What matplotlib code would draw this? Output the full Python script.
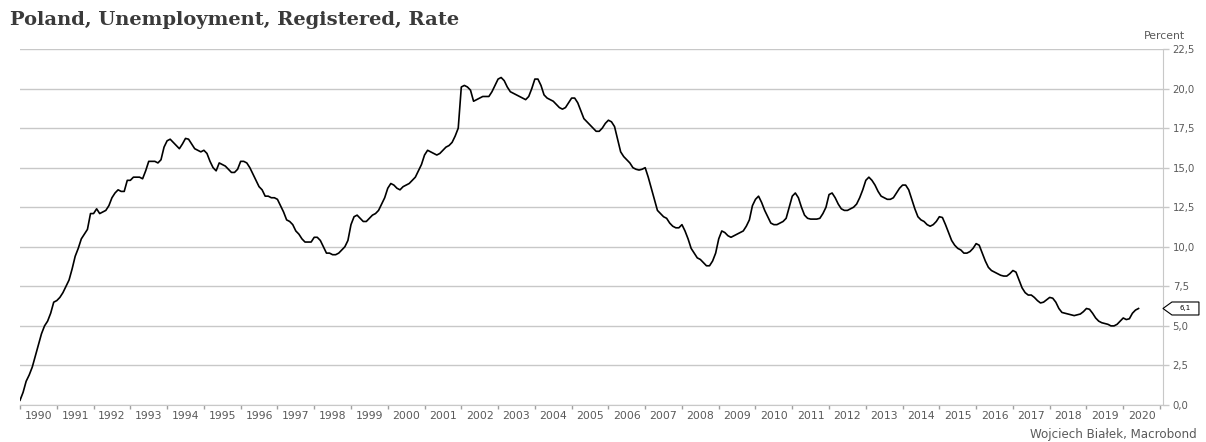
import numpy as np
import matplotlib.pyplot as plt
from matplotlib.patches import Polygon

# monthly registered unemployment rate, Jan 1990 - Jun 2020
rate_1990s = [
    0.3, 0.8, 1.5, 1.9, 2.4, 3.1, 3.8, 4.5, 5.0, 5.3, 5.8, 6.5,        # 1990
    6.6, 6.8, 7.1, 7.5, 7.9, 8.6, 9.4, 9.9, 10.5, 10.8, 11.1, 12.1,    # 1991
    12.1, 12.4, 12.1, 12.2, 12.3, 12.6, 13.1, 13.4, 13.6, 13.5, 13.5, 14.2,  # 1992
    14.2, 14.4, 14.4, 14.4, 14.3, 14.8, 15.4, 15.4, 15.4, 15.3, 15.5, 16.3,  # 1993
    16.7, 16.8, 16.6, 16.4, 16.2, 16.5, 16.85, 16.8, 16.5, 16.2, 16.1, 16.0,  # 1994
    16.1, 15.9, 15.4, 15.0, 14.8, 15.3, 15.2, 15.1, 14.9, 14.7, 14.7, 14.9,  # 1995
    15.4, 15.4, 15.3, 15.0, 14.6, 14.2, 13.8, 13.6, 13.2, 13.2, 13.1, 13.1,  # 1996
    13.0, 12.6, 12.2, 11.7, 11.6, 11.4, 11.0, 10.8, 10.5, 10.3, 10.3, 10.3,  # 1997
    10.6, 10.6, 10.4, 10.0, 9.6, 9.6, 9.5, 9.5, 9.6, 9.8, 10.0, 10.4,        # 1998
    11.4, 11.9, 12.0, 11.8, 11.6, 11.6, 11.8, 12.0, 12.1, 12.3, 12.7, 13.1,  # 1999
]
rate_2000s = [
    13.7, 14.0, 13.9, 13.7, 13.6, 13.8, 13.9, 14.0, 14.2, 14.4, 14.8, 15.2,  # 2000
    15.8, 16.1, 16.0, 15.9, 15.8, 15.9, 16.1, 16.3, 16.4, 16.6, 17.0, 17.5,  # 2001
    20.1, 20.2, 20.1, 19.9, 19.2, 19.3, 19.4, 19.5, 19.5, 19.5, 19.8, 20.2,  # 2002
    20.6, 20.7, 20.5, 20.1, 19.8, 19.7, 19.6, 19.5, 19.4, 19.3, 19.5, 20.0,  # 2003
    20.6, 20.6, 20.2, 19.6, 19.4, 19.3, 19.2, 19.0, 18.8, 18.7, 18.8, 19.1,  # 2004
    19.4, 19.4, 19.1, 18.6, 18.1, 17.9, 17.7, 17.5, 17.3, 17.3, 17.5, 17.8,  # 2005
    18.0, 17.9, 17.6, 16.8, 16.0, 15.7, 15.5, 15.3, 15.0, 14.9, 14.85, 14.9,  # 2006
    15.0, 14.4, 13.7, 13.0, 12.3, 12.1, 11.9, 11.8, 11.5, 11.3, 11.2, 11.2,  # 2007
    11.4, 11.0, 10.5, 9.9, 9.6, 9.3, 9.2, 9.0, 8.8, 8.8, 9.1, 9.6,           # 2008
    10.5, 11.0, 10.9, 10.7, 10.6, 10.7, 10.8, 10.9, 11.0, 11.3, 11.7, 12.6,  # 2009
]
rate_2010s = [
    13.0, 13.2, 12.8, 12.3, 11.9, 11.5, 11.4, 11.4, 11.5, 11.6, 11.8, 12.5,  # 2010
    13.2, 13.4, 13.1, 12.5, 12.0, 11.8, 11.75, 11.75, 11.75, 11.8, 12.1, 12.5,  # 2011
    13.3, 13.4, 13.1, 12.7, 12.4, 12.3, 12.3, 12.4, 12.5, 12.7, 13.1, 13.6,  # 2012
    14.2, 14.4, 14.2, 13.9, 13.5, 13.2, 13.1, 13.0, 13.0, 13.1, 13.4, 13.7,  # 2013
    13.9, 13.9, 13.6, 13.0, 12.4, 11.9, 11.7, 11.6, 11.4, 11.3, 11.4, 11.6,  # 2014
    11.9, 11.85, 11.4, 10.9, 10.4, 10.1, 9.9, 9.8, 9.6, 9.6, 9.7, 9.9,       # 2015
    10.2, 10.1, 9.6, 9.1, 8.7, 8.5, 8.4, 8.3, 8.2, 8.15, 8.15, 8.3,          # 2016
    8.5, 8.4, 7.9, 7.4, 7.1, 6.95, 6.95, 6.8, 6.6, 6.45, 6.5, 6.65,          # 2017
    6.8, 6.75, 6.5, 6.1, 5.85, 5.8, 5.75, 5.7, 5.65, 5.7, 5.75, 5.9,         # 2018
    6.1, 6.05, 5.8, 5.5, 5.3, 5.2, 5.15, 5.1, 5.0, 5.0, 5.1, 5.3,            # 2019
]
rate_2020s = [5.5, 5.4, 5.45, 5.8, 6.0, 6.1]                                 # 2020

rate = np.array(rate_1990s + rate_2000s + rate_2010s + rate_2020s)
start_year = 1990
t = start_year + np.arange(len(rate)) / 12.0

years = list(range(1990, 2021))
yticks = [0, 2.5, 5, 7.5, 10, 12.5, 15, 17.5, 20, 22.5]
last_label = "6,1"

grid_col = "#c8c8c8"
text_col = "#5a5a5a"

fig = plt.figure(figsize=(12.06, 4.42), dpi=100)
ax = fig.add_axes([0.0166, 0.0837, 0.9477, 0.8054])

ax.plot(t, rate, color="black", lw=1.2, solid_joinstyle="round")

ax.set_xlim(1990, 2021.08)
ax.set_ylim(0, 22.5)

# grid and spines
ax.set_yticks(yticks)
ax.yaxis.grid(True, color=grid_col, lw=1)
ax.set_axisbelow(True)
for s in ["top", "left"]:
    ax.spines[s].set_visible(False)
ax.spines["right"].set_color(grid_col)
ax.spines["bottom"].set_color(grid_col)

ax.yaxis.tick_right()
ax.set_yticklabels([("%.1f" % v).replace(".", ",") for v in yticks])
ax.tick_params(axis="y", which="major", direction="out", length=4, width=1,
               color=grid_col, labelcolor=text_col, labelsize=7.3, pad=3)

# year boundaries as ticks, labels centred in each year
ax.set_xticks(years + [2021])
ax.set_xticklabels([])
ax.set_xticks([y + 0.5 for y in years], minor=True)
ax.set_xticklabels([str(y) for y in years], minor=True)
ax.tick_params(axis="x", which="major", direction="out", length=3, width=1, color="#a0a0a0")
ax.tick_params(axis="x", which="minor", length=0, labelcolor=text_col, labelsize=7.8, pad=4)

fig.text(0.008, 0.955, "Poland, Unemployment, Registered, Rate", fontsize=14,
         family="DejaVu Serif", weight="bold", color="#3a3a3a", va="center")
fig.text(0.983, 0.918, "Percent", fontsize=7.8, color=text_col, ha="right", va="center")
fig.text(0.9925, 0.018, "Wojciech Białek, Macrobond", fontsize=8.6, color=text_col,
         ha="right", va="center")

# value tag for the last observation: a small box with a pointer at the axis
px = 1.0 / (ax.get_position().width * fig.get_figwidth() * fig.dpi)
py = 22.5 / (ax.get_position().height * fig.get_figheight() * fig.dpi)
v = rate[-1]
h = 6.5 * py
tag = Polygon([(1.0, v), (1.0 + 9 * px, v + h), (1.0 + 36 * px, v + h),
               (1.0 + 36 * px, v - h), (1.0 + 9 * px, v - h)],
              closed=True, fc="white", ec="black", lw=0.8,
              transform=ax.get_yaxis_transform(), clip_on=False, zorder=5)
ax.add_patch(tag)
ax.text(1.0 + 22 * px, v, last_label, fontsize=5, ha="center", va="center",
        transform=ax.get_yaxis_transform(), clip_on=False, zorder=6)

fig.savefig("out.png", dpi=100)
